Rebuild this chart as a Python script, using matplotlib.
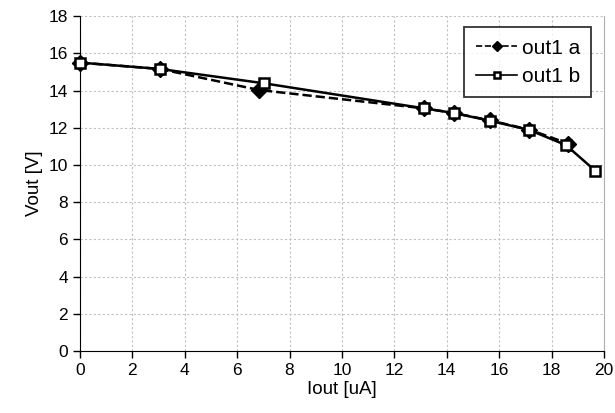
import matplotlib
matplotlib.use("Agg")
import matplotlib.pyplot as plt
from matplotlib.ticker import MultipleLocator

plt.rcParams['font.family'] = ['Liberation Sans', 'DejaVu Sans']

iout_a = [0.0, 3.05, 6.83, 13.15, 14.28, 15.64, 17.15, 18.64]
vout_a = [15.5, 15.16, 14.03, 13.04, 12.79, 12.4, 11.9, 11.15]
iout_b = [0.0, 3.05, 7.02, 13.15, 14.28, 15.64, 17.15, 18.55, 19.66]
vout_b = [15.5, 15.16, 14.39, 13.04, 12.79, 12.38, 11.88, 11.07, 9.7]

fig = plt.figure(figsize=(6.15, 4.13), dpi=100)
ax = fig.add_axes([0.130, 0.150, 0.852, 0.811])

ax.plot(iout_a, vout_a, color="k", linestyle="--", linewidth=1.8,
        marker="D", markersize=8, markerfacecolor="k", label="out1 a",
        zorder=3, clip_on=False)
ax.plot(iout_b, vout_b, color="k", linestyle="-", linewidth=1.8,
        marker="s", markersize=7.5, markerfacecolor="white",
        markeredgecolor="k", markeredgewidth=1.8, label="out1 b",
        zorder=4, clip_on=False)

ax.set_xlim(0, 20)
ax.set_ylim(0, 18)
ax.xaxis.set_major_locator(MultipleLocator(2))
ax.yaxis.set_major_locator(MultipleLocator(2))
ax.grid(True, linestyle=(0, (2, 2)), color="#c0c0c0", linewidth=0.8)
ax.set_axisbelow(True)

ax.spines['top'].set_visible(False)
ax.spines['right'].set_color("#b0b0b0")
ax.tick_params(direction="out", length=5, width=1, labelsize=12.5)

ax.set_xlabel("Iout [uA]", fontsize=13.5, labelpad=2)
ax.set_ylabel("Vout [V]", fontsize=13.5, labelpad=4)

leg = ax.legend(loc="upper right", bbox_to_anchor=(0.976, 0.967), fontsize=15,
                frameon=True, fancybox=False, edgecolor="k", markerscale=0.6,
                handlelength=2.0, handletextpad=0.2, borderpad=0.55,
                borderaxespad=0.0, labelspacing=0.45)
leg.get_frame().set_linewidth(1.3)
for line in leg.get_lines():
    line.set_linewidth(1.2)

fig.savefig("out.png", dpi=100)
